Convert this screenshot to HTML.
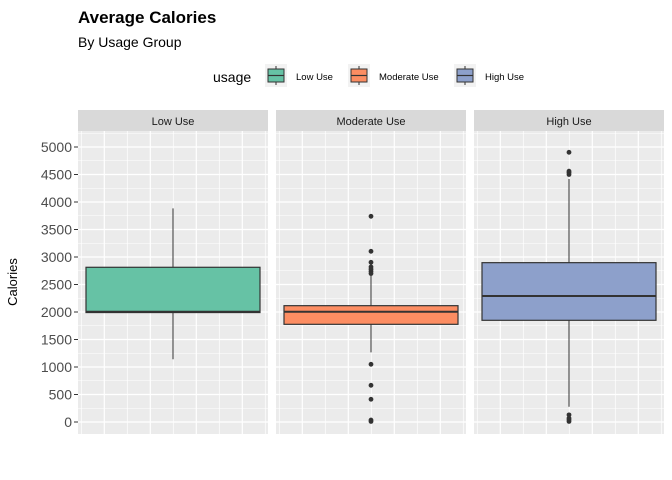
<!DOCTYPE html>
<html><head><meta charset="utf-8"><style>
body{margin:0;background:#fff;}
svg{display:block;font-family:"Liberation Sans",Arial,sans-serif;}
</style></head><body>
<svg id="chart" width="672" height="480">
<text x="78" y="23" font-size="17" font-weight="bold" fill="#000">Average Calories</text>
<text x="78" y="47" font-size="14" fill="#000">By Usage Group</text>
<text x="17" y="282" font-size="13" fill="#000" transform="rotate(-90 17 282)" text-anchor="middle">Calories</text>
<text x="213" y="82" font-size="14" fill="#000">usage</text>
<g id="legend"></g>
<g id="panels"></g>
</svg>
<script>
const groups = ["Low Use","Moderate Use","High Use"];
const colors = ["#66C2A5","#FC8D62","#8DA0CB"];
const q1 = [1990, 1776, 1849];
const med = [2005, 2005, 2291];
const q3 = [2813, 2115, 2897];
const whiskLo = [1140, 1267, 278];
const whiskHi = [3885, 2685, 4418];
const outliers = [[], [3740,3103,2903,2820,2780,2740,2700,1049,667,413,36,10], [4903,4560,4533,4500,130,70,40,10]];
const yTicks = [0,500,1000,1500,2000,2500,3000,3500,4000,4500,5000];

const NS="http://www.w3.org/2000/svg";
const svgEl=document.getElementById('chart');
function mk(tag,attrs,parent){const e=document.createElementNS(NS,tag);for(const k in attrs)e.setAttribute(k,attrs[k]);(parent||svgEl).appendChild(e);return e;}
const yScale = v => 422 - v*0.055;
const panelX=[78,276,474], panelW=190, plotTop=131, plotBottom=434;
const panelsG=document.getElementById('panels');

// legend
const legX=[265,348,454], labX=[296,379,485];
const legG=document.getElementById('legend');
groups.forEach((g,i)=>{
  const k=mk('rect',{x:legX[i],y:64,width:22,height:23,fill:'#f2f2f2'},legG);
  
  
  mk('line',{x1:legX[i]+11,x2:legX[i]+11,y1:66,y2:85,stroke:'#333','stroke-width':1},legG);
  mk('rect',{x:legX[i]+3,y:69,width:16,height:13,fill:colors[i],stroke:'#333','stroke-width':1},legG);
  mk('line',{x1:legX[i]+3,x2:legX[i]+19,y1:75.5,y2:75.5,stroke:'#333','stroke-width':1.2},legG);
  const t=mk('text',{x:labX[i],y:80,'font-size':9.5,fill:'#000'},legG);
  t.textContent=g;
  
  
});

// y ticks
yTicks.forEach(v=>{
  mk('line',{x1:74,x2:78,y1:yScale(v),y2:yScale(v),stroke:'#333','stroke-width':1});
  const t=mk('text',{x:72,y:yScale(v)+5,'font-size':14,fill:'#4d4d4d','text-anchor':'end'});
  t.textContent=v;
  
  
});

groups.forEach((g,i)=>{
  const px=panelX[i];
  const gp=mk('g',{},panelsG);
  
  
  mk('rect',{x:px,y:110,width:panelW,height:21,fill:'#d9d9d9'},gp);
  const st=mk('text',{x:px+panelW/2,y:125,'font-size':11,fill:'#1a1a1a','text-anchor':'middle'},gp);
  st.textContent=g;
  
  
  mk('rect',{x:px,y:plotTop,width:panelW,height:plotBottom-plotTop,fill:'#ebebeb'},gp);
  for(let v=-250; v<=5250; v+=250){
    if(yScale(v)<plotTop||yScale(v)>plotBottom) continue;
    mk('line',{x1:px,x2:px+panelW,y1:yScale(v),y2:yScale(v),stroke:'#fff','stroke-width':(v%500===0)?1.2:0.6},gp);
  }
  for(let k=0;k<9;k++){
    const gx=px+3.3+k*23;
    mk('line',{x1:gx,x2:gx,y1:plotTop,y2:plotBottom,stroke:'#fff','stroke-width':(k%2===0)?0.7:1.2},gp);
  }
  const cx=px+95, bl=px+8, bw=174;
  mk('line',{x1:cx,x2:cx,y1:yScale(whiskHi[i]),y2:yScale(q3[i]),stroke:'#333','stroke-width':1},gp);
  mk('line',{x1:cx,x2:cx,y1:yScale(q1[i]),y2:yScale(whiskLo[i]),stroke:'#333','stroke-width':1},gp);
  const b=mk('rect',{x:bl,y:yScale(q3[i]),width:bw,height:yScale(q1[i])-yScale(q3[i]),fill:colors[i],stroke:'#333','stroke-width':1.2},gp);
  
  
  mk('line',{x1:bl,x2:bl+bw,y1:yScale(med[i]),y2:yScale(med[i]),stroke:'#333','stroke-width':2},gp);
  outliers[i].forEach(v=>{
    const c=mk('circle',{cx:cx,cy:yScale(v),r:2.4,fill:'#333'},gp);
    
    
  });
});
</script>
</body></html>
